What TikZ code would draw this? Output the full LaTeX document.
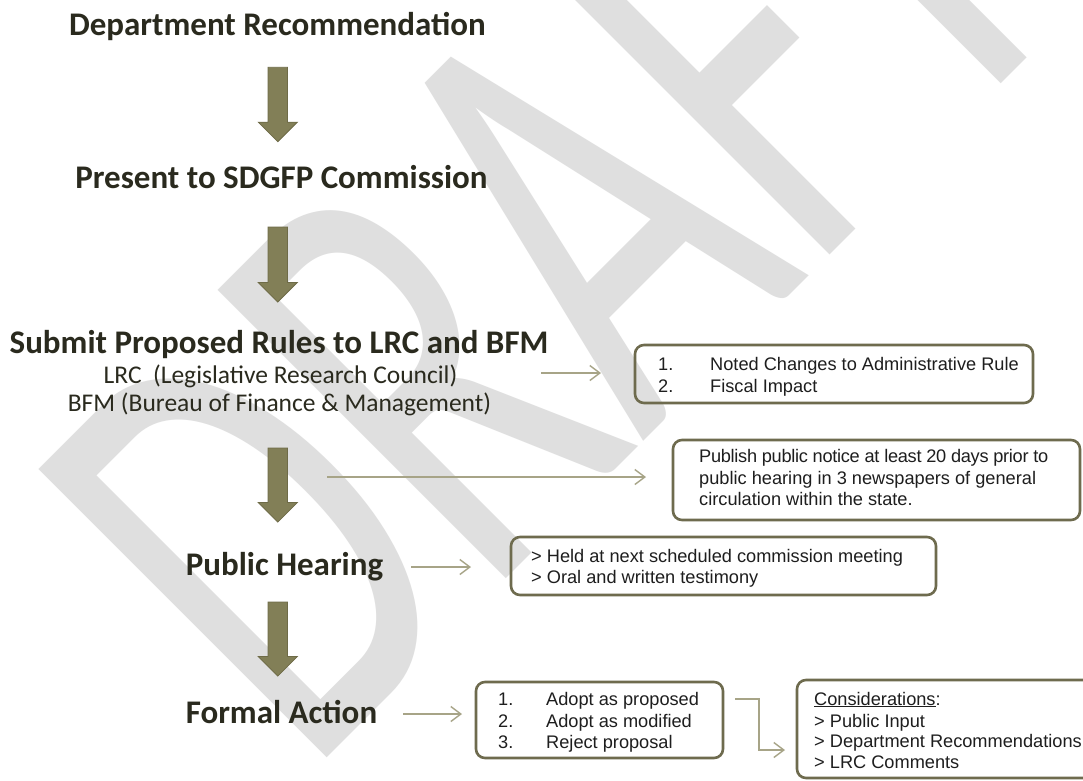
\documentclass[tikz,border=0pt]{standalone}
\usepackage{fontspec}
\usetikzlibrary{arrows.meta}
\newfontfamily\hfont{Carlito}
\newfontfamily\afont{Liberation Sans}
\newfontfamily\wmfont{Carlito}
\definecolor{wmgray}{HTML}{DFDFDF}
\definecolor{headtext}{HTML}{2A2A1E}
\definecolor{boxtext}{HTML}{1E1E1E}
\definecolor{arrowfill}{HTML}{827F57}
\definecolor{arrowedge}{HTML}{6E6B47}
\definecolor{boxedge}{HTML}{6E6B4E}
\definecolor{connc}{HTML}{A7A487}
\tikzset{
  heading/.style={anchor=base, inner sep=0pt, text=headtext, font=\hfont\bfseries\fontsize{33}{39}\selectfont},
  subhead/.style={anchor=base, inner sep=0pt, text=headtext, font=\hfont\fontsize{25.5}{30}\selectfont},
  boxline/.style={anchor=base west, inner sep=0pt, text=boxtext, font=\afont\fontsize{18.2}{21.5}\selectfont},
  infobox/.style={draw=boxedge, line width=2.6pt, rounded corners=9pt, inner sep=0pt},
  conn/.style={draw=connc, line width=1.4pt, -{Straight Barb[length=10pt,width=15pt,line width=1.4pt]}},
  bigarrow/.style={fill=arrowfill, draw=arrowedge, line width=0.8pt},
}
\newcommand\downarrowshape[3]{%
  \path[bigarrow] (#1-9.75,#2) -- (#1+9.75,#2) -- (#1+9.75,#3-19.5) -- (#1+19.5,#3-19.5)
    -- (#1,#3) -- (#1-19.5,#3-19.5) -- (#1-9.75,#3-19.5) -- cycle;}
\begin{document}
\begin{tikzpicture}[x=1pt,y=-1pt]
\useasboundingbox (0,0) rectangle (1083,780);
\fill[white] (0,0) rectangle (1083,780);
% watermark
\begin{scope}
\clip (0,0) rectangle (1083,780);
\node[rotate=45, anchor=base west, inner sep=0pt, text=wmgray] (wm) at (307,778)
  {\scalebox{1}[1.55]{\wmfont\fontsize{410}{410}\selectfont DRAFT}};
\end{scope}
% headings
\node[heading] (h1) at (277.5,35.7) {Department Recommendation};
\node[heading] (h2) at (281.5,188) {Present to SDGFP Commission};
\node[heading] (h3) at (279,353) {Submit Proposed Rules to LRC and BFM};
\node[subhead] (h3a) at (280.5,383) {LRC\ \ (Legislative Research Council)};
\node[subhead] (h3b) at (279.5,411) {BFM (Bureau of Finance \& Management)};
\node[heading] (h4) at (284.5,575) {Public Hearing};
\node[heading] (h5) at (281.5,723) {Formal Action};
% big arrows
\downarrowshape{277.8}{67.3}{141.7}
\downarrowshape{277.8}{227}{302}
\downarrowshape{277.8}{448}{522}
\downarrowshape{277.8}{602}{676}
% boxes
\node[infobox, minimum width=398pt, minimum height=58pt] (b1) at (834,374) {};
\node[infobox, minimum width=407pt, minimum height=80pt] (b2) at (876.5,480) {};
\node[infobox, minimum width=425pt, minimum height=58pt] (b3) at (723.5,566) {};
\node[infobox, minimum width=247pt, minimum height=76pt] (b4) at (599.5,720) {};
\node[infobox, minimum width=295pt, minimum height=98pt] (b5) at (944.5,729) {};
% box texts
\node[boxline] (t1a) at (658,370) {1.};
\node[boxline] (t1b) at (710,370) {Noted Changes to Administrative Rule};
\node[boxline] (t1c) at (658,392) {2.};
\node[boxline] (t1d) at (710,392) {Fiscal Impact};
\node[boxline] (t2a) at (699,462) {\addfontfeature{LetterSpace=-1.6}Publish public notice at least 20 days prior to};
\node[boxline] (t2b) at (699,484) {public hearing in 3 newspapers of general};
\node[boxline] (t2c) at (699,505) {circulation within the state.};
\node[boxline] (t3a) at (531,562) {> Held at next scheduled commission meeting};
\node[boxline] (t3b) at (531,583) {> Oral and written testimony};
\node[boxline] (t4a) at (498,705) {1.};
\node[boxline] (t4b) at (546,705) {Adopt as proposed};
\node[boxline] (t4c) at (498,727) {2.};
\node[boxline] (t4d) at (546,727) {Adopt as modified};
\node[boxline] (t4e) at (498,748) {3.};
\node[boxline] (t4f) at (546,748) {Reject proposal};
\node[boxline] (t5a) at (814,705) {\underline{Considerations}:};
\node[boxline] (t5b) at (814,727) {> Public Input};
\node[boxline] (t5c) at (814,747) {> Department Recommendations};
\node[boxline] (t5d) at (814,768) {> LRC Comments};
% connectors
\coordinate (c1s) at (541,373); \coordinate (c1e) at (601,373);
\coordinate (c2s) at (327,477); \coordinate (c2e) at (646,477);
\coordinate (c3s) at (411,567); \coordinate (c3e) at (471,567);
\coordinate (c4s) at (403,714); \coordinate (c4e) at (462,714);
\coordinate (c5s) at (735,699); \coordinate (c5m) at (759,750); \coordinate (c5e) at (785,750);
\draw[conn] (c1s) -- (c1e);
\draw[conn] (c2s) -- (c2e);
\draw[conn] (c3s) -- (c3e);
\draw[conn] (c4s) -- (c4e);
\draw[conn] (c5s) -| (c5m) -- (c5e);
\end{tikzpicture}
\end{document}
